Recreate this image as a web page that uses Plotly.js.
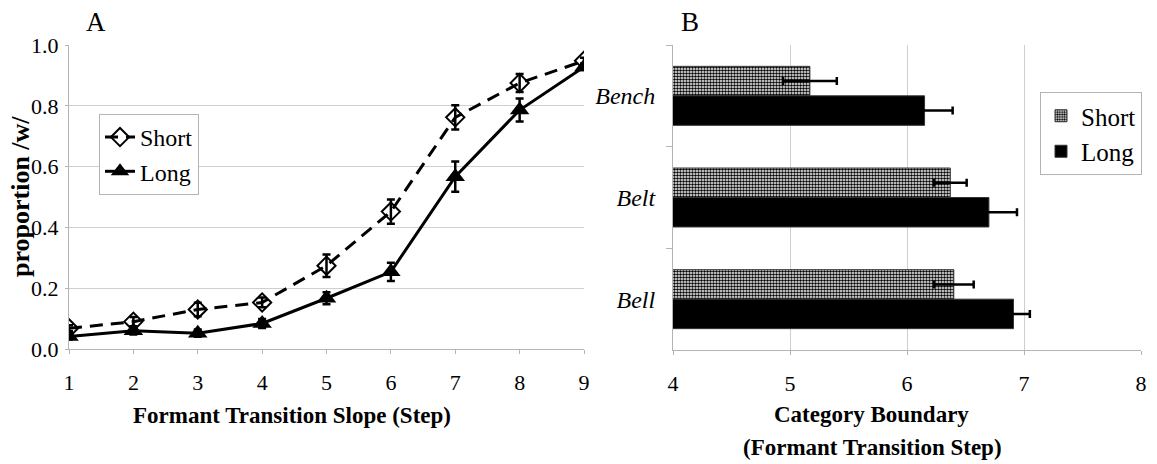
<!DOCTYPE html>
<html>
<head>
<meta charset="utf-8">
<script src="https://cdn.plot.ly/plotly-3.0.1.min.js"></script>
<style>html,body{margin:0;padding:0;background:#fff;}#chart{width:1157px;height:464px;}</style>
</head>
<body>
<div id="chart"></div>
<script>
// Panel A data
const steps = [1, 2, 3, 4, 5, 6, 7, 8, 9];
const shortProp = [0.068, 0.090, 0.130, 0.153, 0.274, 0.452, 0.762, 0.875, 0.948];
const shortErr  = [0.010, 0.015, 0.022, 0.016, 0.037, 0.040, 0.040, 0.030, 0.010];
const longProp  = [0.041, 0.060, 0.052, 0.084, 0.167, 0.254, 0.567, 0.786, 0.928];
const longErr   = [0.010, 0.012, 0.012, 0.015, 0.020, 0.030, 0.050, 0.038, 0.010];

// Panel B data
const words = ['Bench', 'Belt', 'Bell'];
const shortBoundary = [5.17, 6.37, 6.40];
const shortBoundaryErr = [0.23, 0.14, 0.17];
const longBoundary = [6.15, 6.70, 6.91];
const longBoundaryErr = [0.24, 0.24, 0.14];

const serif = 'Liberation Serif';
const gridCol = '#cfcfcf';
const axCol = '#b4b4b4';

const traces = [
  {
    x: steps, y: shortProp, type: 'scatter', mode: 'lines+markers', name: 'Short',
    xaxis: 'x', yaxis: 'y', legend: 'legend',
    line: {color: '#000', width: 3, dash: '13px,8px'},
    marker: {symbol: 'diamond-open', size: 14, color: '#000', line: {width: 2, color: '#000'}},
    error_y: {type: 'data', array: shortErr, visible: true, color: '#000', thickness: 2.5, width: 4}
  },
  {
    x: steps, y: longProp, type: 'scatter', mode: 'lines+markers', name: 'Long',
    xaxis: 'x', yaxis: 'y', legend: 'legend',
    line: {color: '#000', width: 3},
    marker: {symbol: 'triangle-up', size: 17, color: '#000'},
    error_y: {type: 'data', array: longErr, visible: true, color: '#000', thickness: 2.5, width: 4}
  },
  {
    x: shortBoundary, y: words, type: 'bar', orientation: 'h', name: 'Short',
    xaxis: 'x2', yaxis: 'y2', legend: 'legend2',
    marker: {color: '#ffffff', line: {color: '#333', width: 1},
      pattern: {shape: '.', fgcolor: '#000', bgcolor: '#fff', size: 3, solidity: 0.55}},
    error_x: {type: 'data', array: shortBoundaryErr, visible: true, color: '#000', thickness: 2.5, width: 4}
  },
  {
    x: longBoundary, y: words, type: 'bar', orientation: 'h', name: 'Long',
    xaxis: 'x2', yaxis: 'y2', legend: 'legend2',
    marker: {color: '#000', line: {color: '#333', width: 1}},
    error_x: {type: 'data', array: longBoundaryErr, visible: true, color: '#000', thickness: 2.5, width: 4}
  }
];

const W = 1157, H = 464;
const px = v => v / W;
const py = v => (H - v) / H;

const layout = {
  width: W, height: H,
  margin: {l: 0, r: 0, t: 0, b: 0},
  paper_bgcolor: '#fff', plot_bgcolor: 'rgba(0,0,0,0)',
  font: {family: serif, color: '#000', size: 22},
  barmode: 'group', bargap: 0.42, bargroupgap: 0,
  showlegend: true,
  xaxis: {
    domain: [px(69), px(584)], range: [1, 9], dtick: 1, anchor: 'y',
    showgrid: false, zeroline: false, showline: true, linecolor: axCol, linewidth: 1,
    ticks: 'outside', ticklen: 4, tickcolor: axCol, ticklabelstandoff: 10,
    tickfont: {family: serif, size: 22, color: '#000'}
  },
  yaxis: {
    domain: [py(349), py(45)], range: [0, 1], dtick: 0.2, tickformat: '.1f', anchor: 'x',
    showgrid: true, gridcolor: gridCol, zeroline: false, showline: true, linecolor: axCol, linewidth: 1,
    ticks: 'outside', ticklen: 3, tickcolor: axCol, ticklabelstandoff: 2,
    tickfont: {family: serif, size: 22, color: '#000'}
  },
  xaxis2: {
    domain: [px(673), px(1141)], range: [4, 8], dtick: 1, anchor: 'y2',
    showgrid: true, gridcolor: gridCol, zeroline: false, showline: true, linecolor: axCol, linewidth: 1,
    ticks: 'outside', ticklen: 4, tickcolor: axCol, ticklabelstandoff: 10,
    tickfont: {family: serif, size: 22, color: '#000'}
  },
  yaxis2: {
    domain: [py(350), py(45)], type: 'category', autorange: 'reversed', anchor: 'x2',
    showgrid: false, zeroline: false, showline: true, linecolor: axCol, linewidth: 1,
    ticks: 'outside', tickson: 'boundaries', ticklen: 6, tickcolor: axCol, ticklabelstandoff: 12,
    tickfont: {family: serif, size: 24, style: 'italic', color: '#000'}
  },
  legend: {
    x: px(99), y: py(114), xanchor: 'left', yanchor: 'top',
    bgcolor: '#fff', bordercolor: axCol, borderwidth: 1,
    font: {family: serif, size: 24, color: '#000'}, itemwidth: 30, traceorder: 'normal'
  },
  legend2: {
    x: px(1040), y: py(92), xanchor: 'left', yanchor: 'top',
    bgcolor: '#fff', bordercolor: axCol, borderwidth: 1,
    font: {family: serif, size: 25, color: '#000'}, itemwidth: 30, traceorder: 'normal'
  },
  annotations: [
    {text: 'A', x: px(96), y: py(22), xref: 'paper', yref: 'paper', showarrow: false,
     xanchor: 'center', yanchor: 'middle', font: {family: serif, size: 27}},
    {text: 'B', x: px(690), y: py(22), xref: 'paper', yref: 'paper', showarrow: false,
     xanchor: 'center', yanchor: 'middle', font: {family: serif, size: 27}},
    {text: '<b>proportion /w/</b>', x: px(21), y: py(197), xref: 'paper', yref: 'paper', showarrow: false,
     textangle: -90, xanchor: 'center', yanchor: 'middle', font: {family: serif, size: 26}},
    {text: '<b>Formant Transition Slope (Step)</b>', x: px(292), y: py(415), xref: 'paper', yref: 'paper',
     showarrow: false, xanchor: 'center', yanchor: 'middle', font: {family: serif, size: 23}},
    {text: '<b>Category Boundary</b>', x: px(871), y: py(414), xref: 'paper', yref: 'paper',
     showarrow: false, xanchor: 'center', yanchor: 'middle', font: {family: serif, size: 23}},
    {text: '<b>(Formant Transition Step)</b>', x: px(872), y: py(447), xref: 'paper', yref: 'paper',
     showarrow: false, xanchor: 'center', yanchor: 'middle', font: {family: serif, size: 23}}
  ]
};

Plotly.newPlot('chart', traces, layout, {staticPlot: true, displayModeBar: false});
</script>
</body>
</html>
